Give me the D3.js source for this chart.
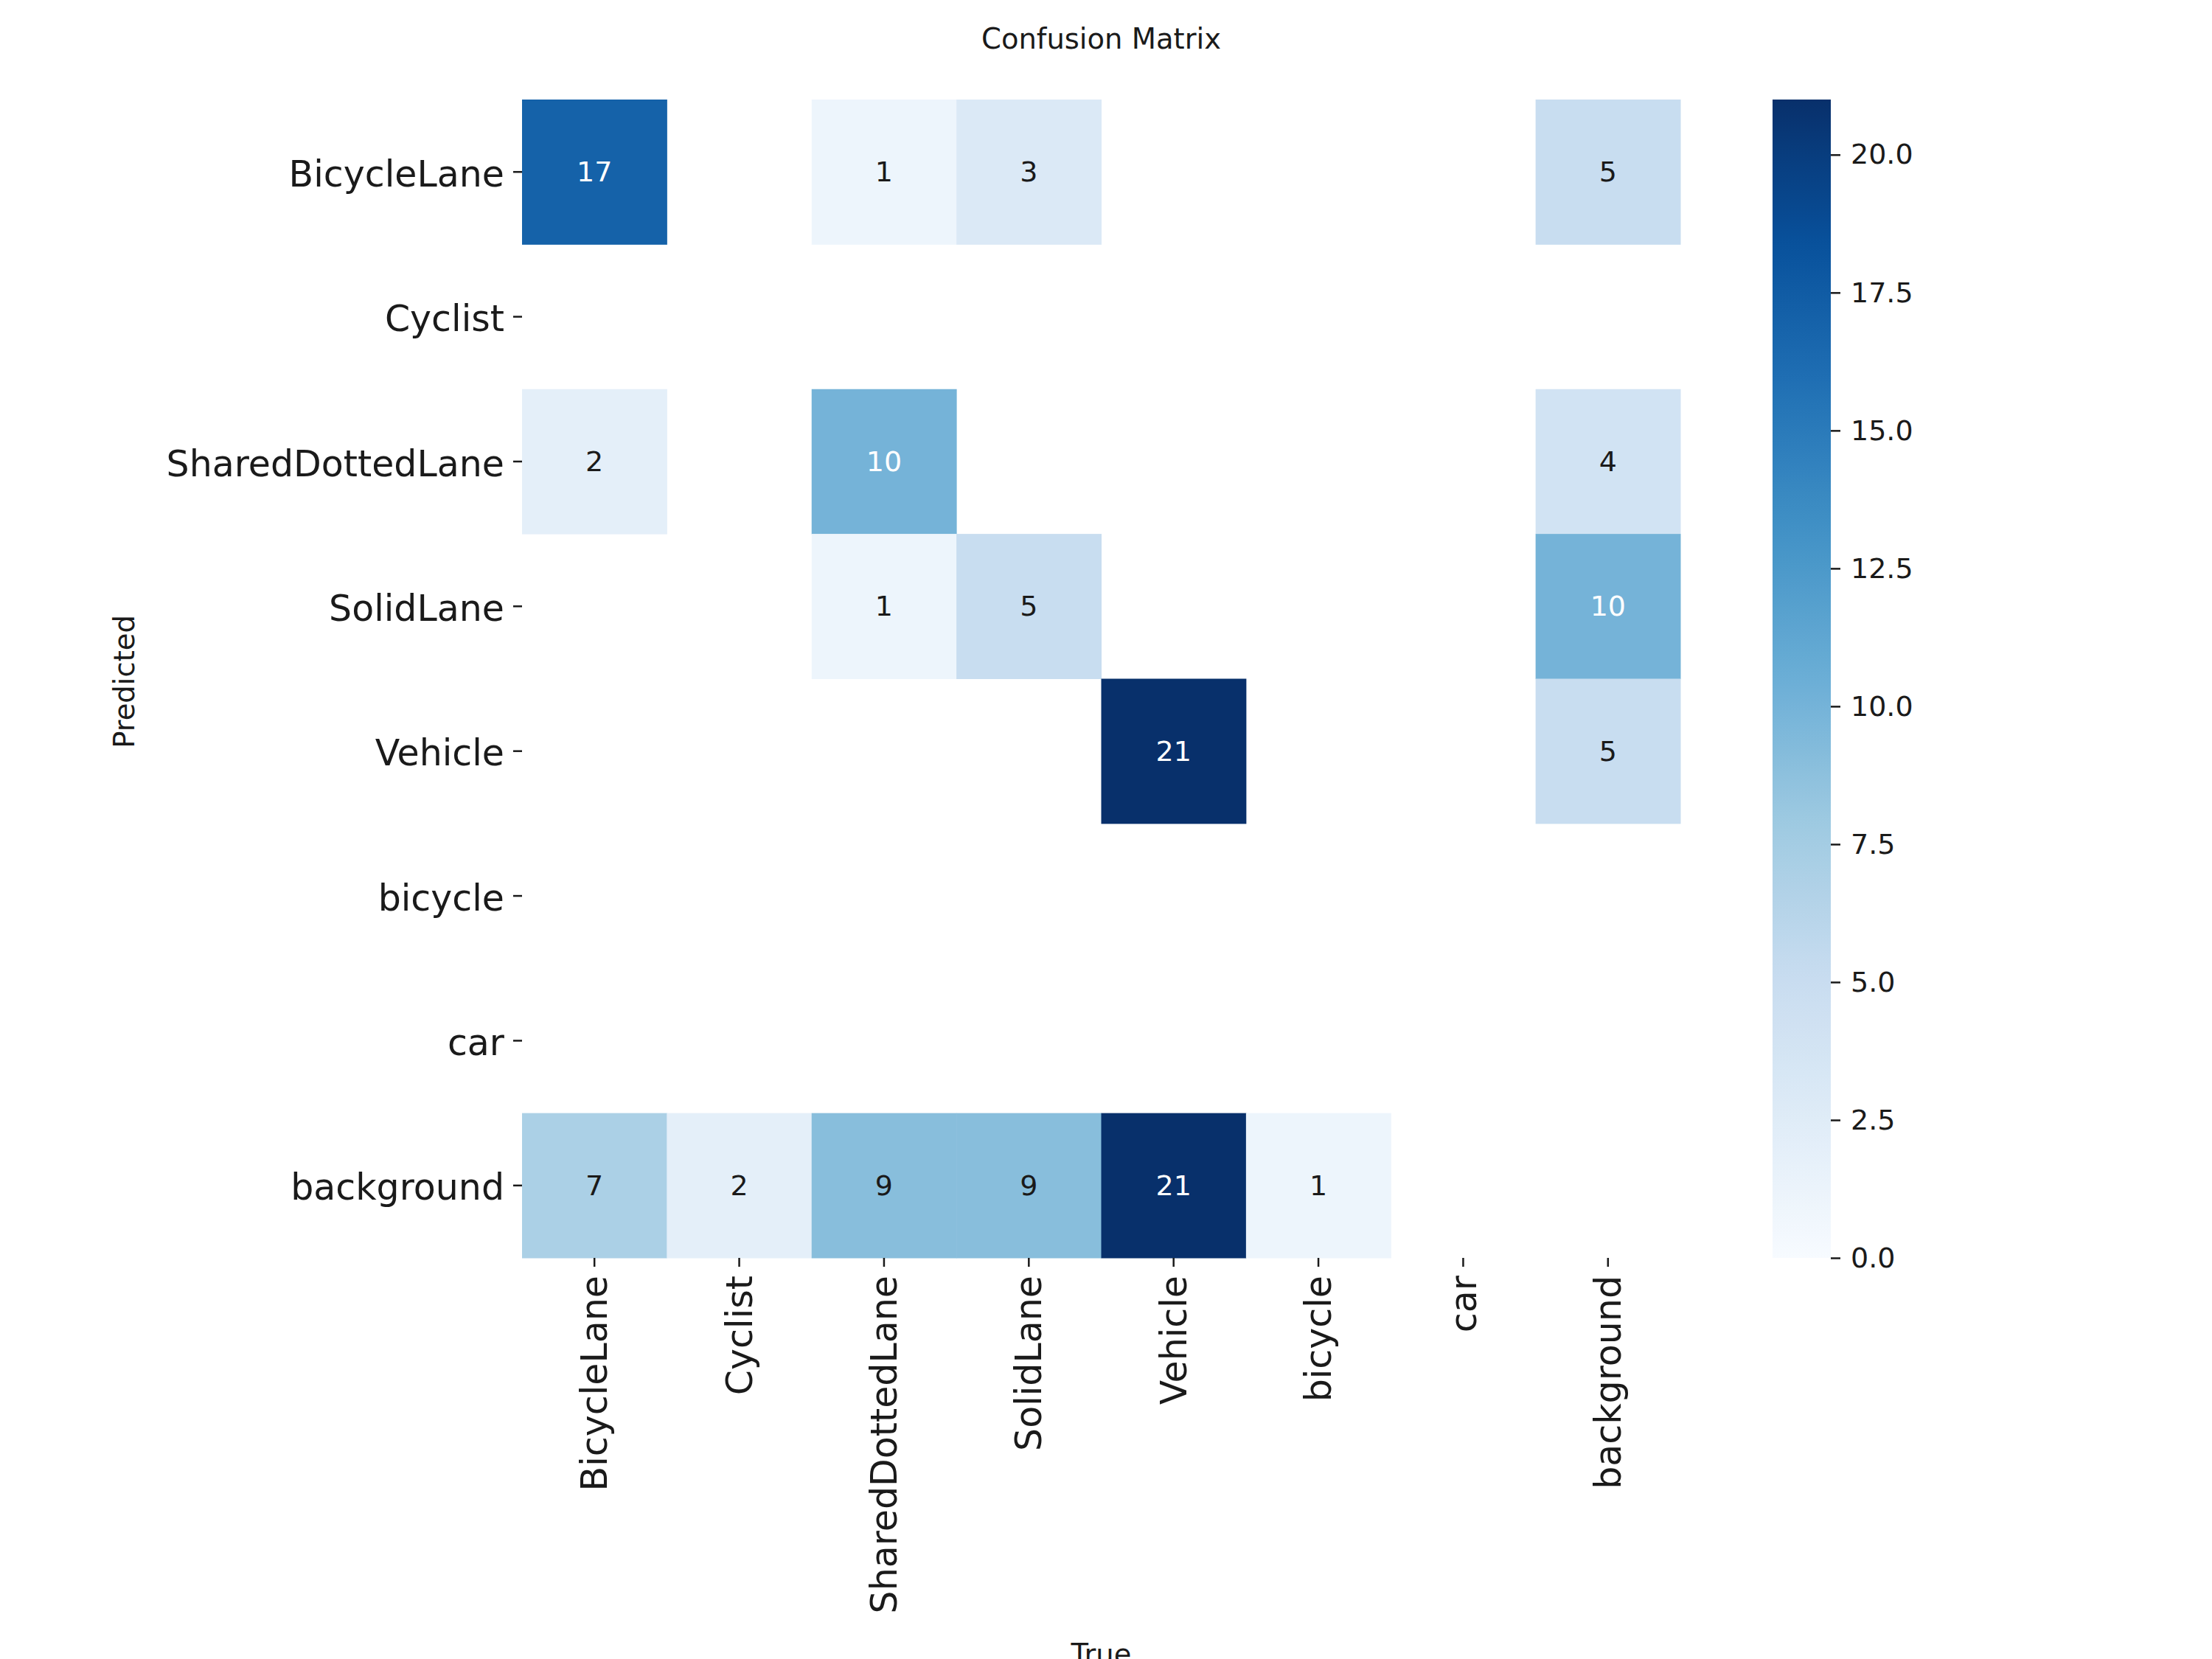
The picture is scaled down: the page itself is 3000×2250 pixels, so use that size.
<!DOCTYPE html>
<html>
<head>
<meta charset="utf-8">
<script src="https://cdn.jsdelivr.net/npm/d3@7"></script>
<style>
  html, body { margin: 0; padding: 0; background: #fff; }
  svg { display: block; font-family: "DejaVu Sans", sans-serif; }
</style>
</head>
<body>
<div id="chart"></div>
<script>
const trueLabels = ["BicycleLane", "Cyclist", "SharedDottedLane", "SolidLane", "Vehicle", "bicycle", "car", "background"];
const predLabels = ["BicycleLane", "Cyclist", "SharedDottedLane", "SolidLane", "Vehicle", "bicycle", "car", "background"];

// one array per predicted row, columns follow trueLabels
const rowBicycleLane      = [17, 0, 1, 3, 0, 0, 0, 5];
const rowCyclist          = [0, 0, 0, 0, 0, 0, 0, 0];
const rowSharedDottedLane = [2, 0, 10, 0, 0, 0, 0, 4];
const rowSolidLane        = [0, 0, 1, 5, 0, 0, 0, 10];
const rowVehicle          = [0, 0, 0, 0, 21, 0, 0, 5];
const rowBicycle          = [0, 0, 0, 0, 0, 0, 0, 0];
const rowCar              = [0, 0, 0, 0, 0, 0, 0, 0];
const rowBackground       = [7, 2, 9, 9, 21, 1, 0, 0];

const colorbarTicks = [0, 2.5, 5, 7.5, 10, 12.5, 15, 17.5, 20];
const bluesStops = ["#f7fbff", "#deebf7", "#c6dbef", "#9ecae1", "#6baed6", "#4292c6", "#2171b5", "#08519c", "#08306b"];

const matrix = [rowBicycleLane, rowCyclist, rowSharedDottedLane, rowSolidLane, rowVehicle, rowBicycle, rowCar, rowBackground];

const width = 3000, height = 2250;
const plot = { left: 708, top: 135, size: 1571 };
const bar = { left: 2404, width: 79 };
const textColor = "#1a1a1a";

const svg = d3.select("#chart").append("svg")
  .attr("width", width)
  .attr("height", height);

const vmax = d3.max(matrix, r => d3.max(r));

// matplotlib-like Blues: linear between the 9 brewer stops
const color = d3.scaleLinear()
  .domain(bluesStops.map((c, i) => i / (bluesStops.length - 1) * vmax))
  .range(bluesStops)
  .interpolate(d3.interpolateRgb)
  .clamp(true);

const x = d3.scaleBand().domain(trueLabels).range([plot.left, plot.left + plot.size]);
const y = d3.scaleBand().domain(predLabels).range([plot.top, plot.top + plot.size]);

function luminance(c) {
  const rgb = d3.rgb(c);
  const f = v => { v /= 255; return v <= 0.03928 ? v / 12.92 : Math.pow((v + 0.055) / 1.055, 2.4); };
  return 0.2126 * f(rgb.r) + 0.7152 * f(rgb.g) + 0.0722 * f(rgb.b);
}

const cells = [];
matrix.forEach((row, i) => row.forEach((v, j) => {
  if (v > 0) cells.push({ pred: predLabels[i], truth: trueLabels[j], value: v });
}));

const g = svg.append("g");

g.selectAll("rect.cell")
  .data(cells)
  .enter()
  .append("rect")
  .attr("class", "cell")
  .attr("x", d => x(d.truth))
  .attr("y", d => y(d.pred))
  .attr("width", x.bandwidth() + 0.5)
  .attr("height", y.bandwidth() + 0.5)
  .attr("fill", d => color(d.value));

g.selectAll("text.annot")
  .data(cells)
  .enter()
  .append("text")
  .attr("class", "annot")
  .attr("x", d => x(d.truth) + x.bandwidth() / 2)
  .attr("y", d => y(d.pred) + y.bandwidth() / 2)
  .attr("text-anchor", "middle")
  .attr("dominant-baseline", "central")
  .style("font-size", "38px")
  .style("fill", d => luminance(color(d.value)) <= 0.42 ? "#ffffff" : textColor)
  .text(d => d3.format(".0f")(d.value));

// axes
const yAxis = svg.append("g")
  .attr("transform", `translate(${plot.left},0)`)
  .call(d3.axisLeft(y).tickSize(12).tickPadding(12));
const xAxis = svg.append("g")
  .attr("transform", `translate(0,${plot.top + plot.size})`)
  .call(d3.axisBottom(x).tickSize(12).tickPadding(12));

[xAxis, yAxis].forEach(a => {
  a.select(".domain").remove();
  a.selectAll(".tick line").attr("stroke", textColor).attr("stroke-width", 2.5);
  a.selectAll(".tick text").style("font-size", "49px").attr("fill", textColor).style("font-family", "DejaVu Sans");
});

yAxis.selectAll(".tick text").attr("dy", "0.4em");

xAxis.selectAll(".tick text")
  .attr("transform", "rotate(-90)")
  .attr("x", -24)
  .attr("y", 0)
  .attr("dy", "0.35em")
  .attr("text-anchor", "end");

// colorbar
const cbScale = d3.scaleLinear().domain([0, vmax]).range([plot.top + plot.size, plot.top]);
const defs = svg.append("defs");
const grad = defs.append("linearGradient")
  .attr("id", "cbgrad")
  .attr("x1", 0).attr("y1", 1).attr("x2", 0).attr("y2", 0);
d3.range(0, 1.0001, 0.02).forEach(t => {
  grad.append("stop").attr("offset", t).attr("stop-color", color(t * vmax));
});

svg.append("rect")
  .attr("x", bar.left)
  .attr("y", cbScale(vmax))
  .attr("width", bar.width)
  .attr("height", cbScale(0) - cbScale(vmax))
  .attr("fill", "url(#cbgrad)");

const cbAxis = svg.append("g")
  .attr("transform", `translate(${bar.left + bar.width},0)`)
  .call(d3.axisRight(cbScale).tickValues(colorbarTicks).tickSize(13).tickPadding(14).tickFormat(d3.format(".1f")));
cbAxis.select(".domain").remove();
cbAxis.selectAll(".tick line").attr("stroke", textColor).attr("stroke-width", 2.5);
cbAxis.selectAll(".tick text").style("font-size", "38px").attr("fill", textColor).style("font-family", "DejaVu Sans");

// titles
const cx = plot.left + plot.size / 2;
const cy = plot.top + plot.size / 2;

svg.append("text")
  .attr("x", cx)
  .attr("y", 66)
  .attr("text-anchor", "middle")
  .style("font-size", "38.5px")
  .attr("fill", textColor)
  .text("Confusion Matrix");

svg.append("text")
  .attr("transform", `translate(182,${cy + 4}) rotate(-90)`)
  .attr("text-anchor", "middle")
  .style("font-size", "38.5px")
  .attr("fill", textColor)
  .text("Predicted");

svg.append("text")
  .attr("x", cx)
  .attr("y", 2257)
  .attr("text-anchor", "middle")
  .style("font-size", "38.5px")
  .attr("fill", textColor)
  .text("True");
</script>
</body>
</html>
